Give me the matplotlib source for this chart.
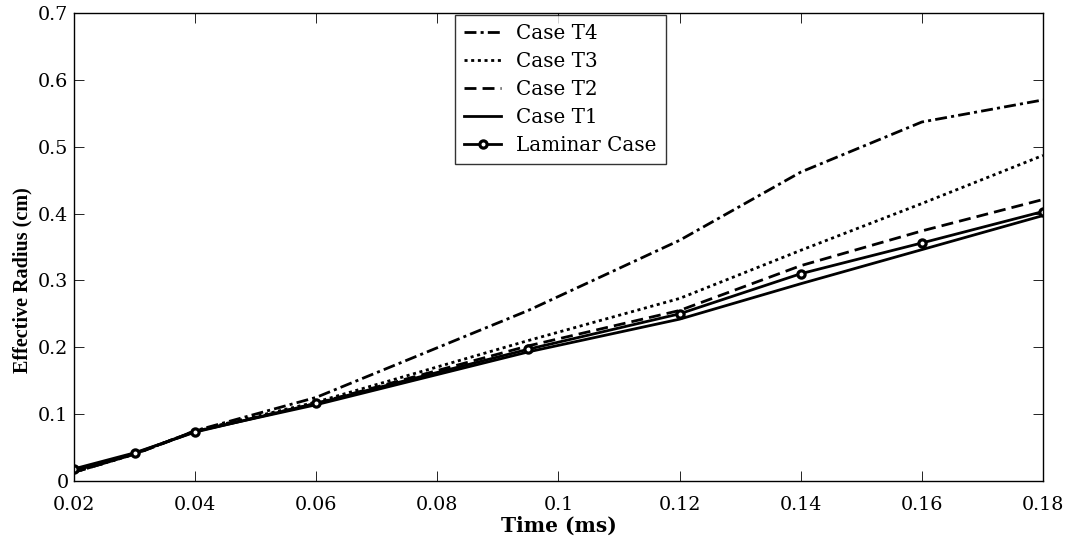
import matplotlib
matplotlib.use("Agg")
import matplotlib.pyplot as plt

# Time samples (ms)
time_ms = [0.02, 0.03, 0.04, 0.06, 0.095, 0.12, 0.14, 0.16, 0.18]

# Effective radius (cm) for each case
case_t4 = [0.013, 0.040, 0.075, 0.125, 0.255, 0.360, 0.462, 0.537, 0.570]
case_t3 = [0.013, 0.040, 0.075, 0.118, 0.210, 0.273, 0.345, 0.415, 0.487]
case_t2 = [0.013, 0.040, 0.074, 0.116, 0.202, 0.255, 0.322, 0.374, 0.421]
case_t1 = [0.015, 0.041, 0.074, 0.114, 0.193, 0.242, 0.295, 0.346, 0.397]
laminar = [0.018, 0.042, 0.073, 0.116, 0.197, 0.250, 0.310, 0.356, 0.403]

series_labels = ["Case T4", "Case T3", "Case T2", "Case T1", "Laminar Case"]
x_ticks = [0.02, 0.04, 0.06, 0.08, 0.1, 0.12, 0.14, 0.16, 0.18]
x_tick_labels = ["0.02", "0.04", "0.06", "0.08", "0.1", "0.12", "0.14", "0.16", "0.18"]
y_ticks = [0, 0.1, 0.2, 0.3, 0.4, 0.5, 0.6, 0.7]
y_tick_labels = ["0", "0.1", "0.2", "0.3", "0.4", "0.5", "0.6", "0.7"]

plt.rcParams["font.family"] = ["DejaVu Serif"]

fig = plt.figure(figsize=(10.73, 5.44), dpi=100)
ax = fig.add_axes([0.069, 0.116, 0.903, 0.860])

lw = 2.0
h4, = ax.plot(time_ms, case_t4, color="black", lw=lw,
              linestyle=(0, (4.3, 1.5, 1.1, 1.5)))
h3, = ax.plot(time_ms, case_t3, color="black", lw=lw,
              linestyle=(0, (1.1, 1.3)))
h2, = ax.plot(time_ms, case_t2, color="black", lw=lw,
              linestyle=(0, (4.3, 2.2)))
h1, = ax.plot(time_ms, case_t1, color="black", lw=lw, linestyle="-")
hl, = ax.plot(time_ms, laminar, color="black", lw=lw, linestyle="-",
              marker="o", markersize=5.2, markeredgewidth=2.3,
              markerfacecolor="white", markeredgecolor="black")

ax.set_xlim(0.02, 0.18)
ax.set_ylim(0, 0.7)
ax.set_xticks(x_ticks)
ax.set_xticklabels(x_tick_labels)
ax.set_yticks(y_ticks)
ax.set_yticklabels(y_tick_labels)
ax.tick_params(direction="in", length=7, width=0.6, top=True, right=True,
               labelsize=13.8, colors="black")
ax.tick_params(axis="x", pad=11)
ax.tick_params(axis="y", pad=4)
for sp in ax.spines.values():
    sp.set_linewidth(1.0)
    sp.set_color("black")

ax.set_xlabel("Time (ms)", fontsize=14.5, fontweight="bold", labelpad=1)
ax.set_ylabel("Effective Radius (cm)", fontsize=14.5, fontweight="bold",
              family=["Liberation Serif", "DejaVu Serif"])
ax.yaxis.set_label_coords(-0.043, 0.43)

leg = ax.legend([h4, h3, h2, h1, hl], series_labels,
                loc="upper left", bbox_to_anchor=(0.393, 0.996),
                fontsize=14.3, frameon=True, fancybox=False,
                handlelength=1.9, handletextpad=0.75, labelspacing=0.45,
                borderpad=0.45, borderaxespad=0)
leg.get_frame().set_edgecolor("black")
leg.get_frame().set_linewidth(1.0)

fig.savefig("out.png", dpi=100)
